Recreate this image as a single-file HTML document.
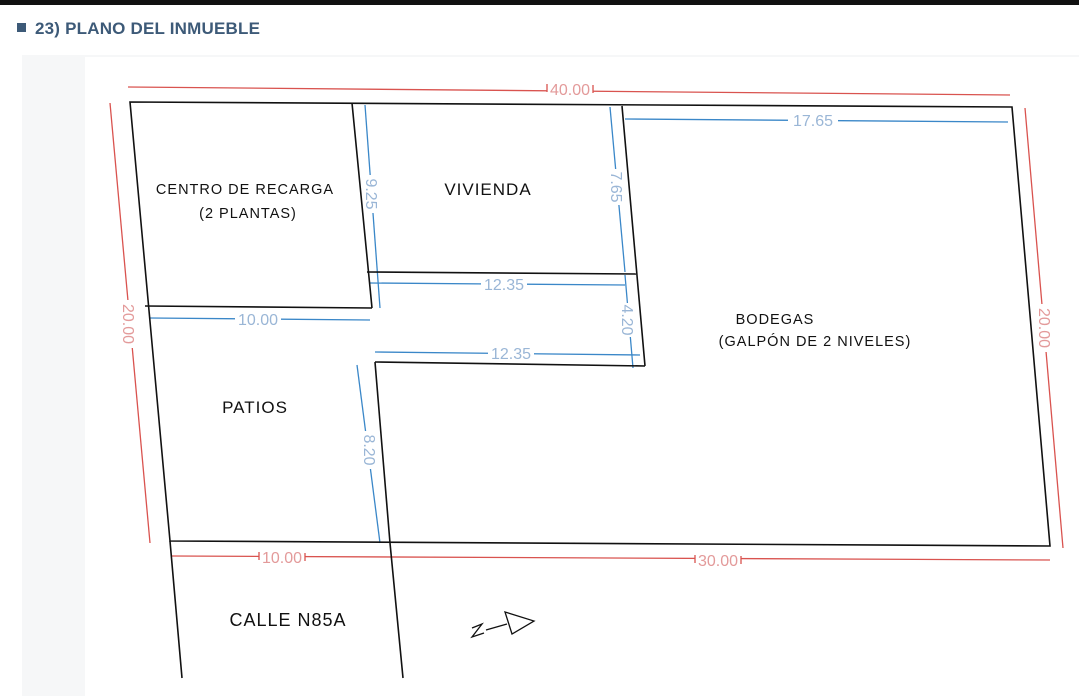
<!DOCTYPE html>
<html><head><meta charset="utf-8"><style>
html,body{margin:0;padding:0;background:#fff;width:1079px;height:696px;overflow:hidden;font-family:"Liberation Sans",sans-serif}
.bar{position:absolute;left:0;top:0;width:1079px;height:5px;background:#111}
.title{position:absolute;left:17px;top:19px;font-size:17px;font-weight:bold;color:#3d5a78;letter-spacing:0.2px}
.title span{display:inline-block;width:9px;height:9px;background:#3d5a78;margin-right:9px;vertical-align:2px}
.panel{position:absolute;left:22px;top:55px;width:1057px;height:641px;background:#f6f7f8}
.sheet{position:absolute;left:85px;top:57px;width:994px;height:639px;background:#fff}
svg{position:absolute;left:0;top:0}
</style></head><body>
<div class="bar"></div>
<div class="title"><span></span>23) PLANO DEL INMUEBLE</div>
<div class="panel"></div>
<div class="sheet"></div>
<svg width="1079" height="696" viewBox="0 0 1079 696" font-family="Liberation Sans, sans-serif">
<g stroke="#d9534f" stroke-width="1.3" fill="none">
<line x1="128" y1="87" x2="1010" y2="95"/>
<line x1="110" y1="103" x2="150" y2="543"/>
<line x1="1025" y1="108" x2="1063" y2="548"/>
<line x1="172" y1="556" x2="1050" y2="560"/>
</g>
<g stroke="#3a87c8" stroke-width="1.3" fill="none">
<line x1="365" y1="105" x2="380" y2="308"/>
<line x1="610" y1="107" x2="625" y2="272"/>
<line x1="625" y1="275" x2="633" y2="368"/>
<line x1="625" y1="119" x2="1008" y2="122"/>
<line x1="370" y1="283" x2="625" y2="285"/>
<line x1="150" y1="318" x2="370" y2="320"/>
<line x1="375" y1="352" x2="640" y2="355"/>
<line x1="357" y1="365" x2="380" y2="543"/>
</g>
<g fill="#fff">
<rect x="547" y="80" width="46" height="16"/>
<rect x="788" y="113" width="50" height="16"/>
<rect x="481" y="277" width="46" height="16"/>
<rect x="235" y="312" width="46" height="16"/>
<rect x="488" y="346" width="46" height="16"/>
<rect x="259" y="550" width="46" height="16"/>
<rect x="695" y="553" width="46" height="16"/>
<rect x="364" y="175" width="16" height="38"/>
<rect x="609" y="169" width="16" height="36"/>
<rect x="620" y="303" width="16" height="34"/>
<rect x="362" y="431" width="16" height="38"/>
<rect x="122" y="300" width="16" height="48"/>
<rect x="1037" y="304" width="16" height="48"/>
</g>
<g stroke="#111" stroke-width="1.6" fill="none">
<polygon points="130,102 1012,107 1050,546 170,541"/>
<line x1="352" y1="103" x2="372" y2="308"/>
<line x1="145" y1="306" x2="372" y2="308"/>
<line x1="367" y1="272" x2="636" y2="274"/>
<line x1="622" y1="106" x2="645" y2="366"/>
<line x1="375" y1="362" x2="645" y2="366"/>
<line x1="375" y1="362" x2="390" y2="543"/>
<line x1="170" y1="541" x2="182" y2="678"/>
<line x1="390" y1="543" x2="403" y2="678"/>
<polyline points="472,628 482,624 472,637 484,633" stroke-width="1.3"/>
<line x1="486" y1="630" x2="507" y2="624" stroke-width="1.3"/>
<polygon points="505,612 534,621 512,634" stroke-width="1.3"/>
</g>
<g stroke="#d9534f" stroke-width="1.3">
<line x1="547" y1="84" x2="547" y2="92"/><line x1="593" y1="85" x2="593" y2="93"/>
<line x1="259" y1="552" x2="259" y2="560"/><line x1="305" y1="553" x2="305" y2="561"/>
<line x1="695" y1="555" x2="695" y2="563"/><line x1="741" y1="556" x2="741" y2="564"/>
</g>
<g fill="#e39a9a" font-size="16" text-anchor="middle">
<text x="570" y="95">40.00</text>
<text x="282" y="563">10.00</text>
<text x="718" y="566">30.00</text>
<text transform="translate(123,324) rotate(90)">20.00</text>
<text transform="translate(1039,328) rotate(90)">20.00</text>
</g>
<g fill="#9ab6d6" font-size="16" text-anchor="middle">
<text x="813" y="126">17.65</text>
<text x="504" y="290">12.35</text>
<text x="258" y="325">10.00</text>
<text x="511" y="359">12.35</text>
<text transform="translate(366,194) rotate(90)">9.25</text>
<text transform="translate(611,187) rotate(90)">7.65</text>
<text transform="translate(622,320) rotate(90)">4.20</text>
<text transform="translate(364,450) rotate(90)">8.20</text>
</g>
<g fill="#111" text-anchor="middle" letter-spacing="1">
<text x="245" y="194" font-size="14.5">CENTRO DE RECARGA</text>
<text x="248" y="218" font-size="14.5">(2 PLANTAS)</text>
<text x="488" y="195" font-size="17">VIVIENDA</text>
<text x="775" y="324" font-size="14.5">BODEGAS</text>
<text x="815" y="346" font-size="14.5">(GALPÓN DE 2 NIVELES)</text>
<text x="255" y="413" font-size="17">PATIOS</text>
<text x="288" y="626" font-size="18">CALLE N85A</text>
</g>
</svg>
</body></html>
